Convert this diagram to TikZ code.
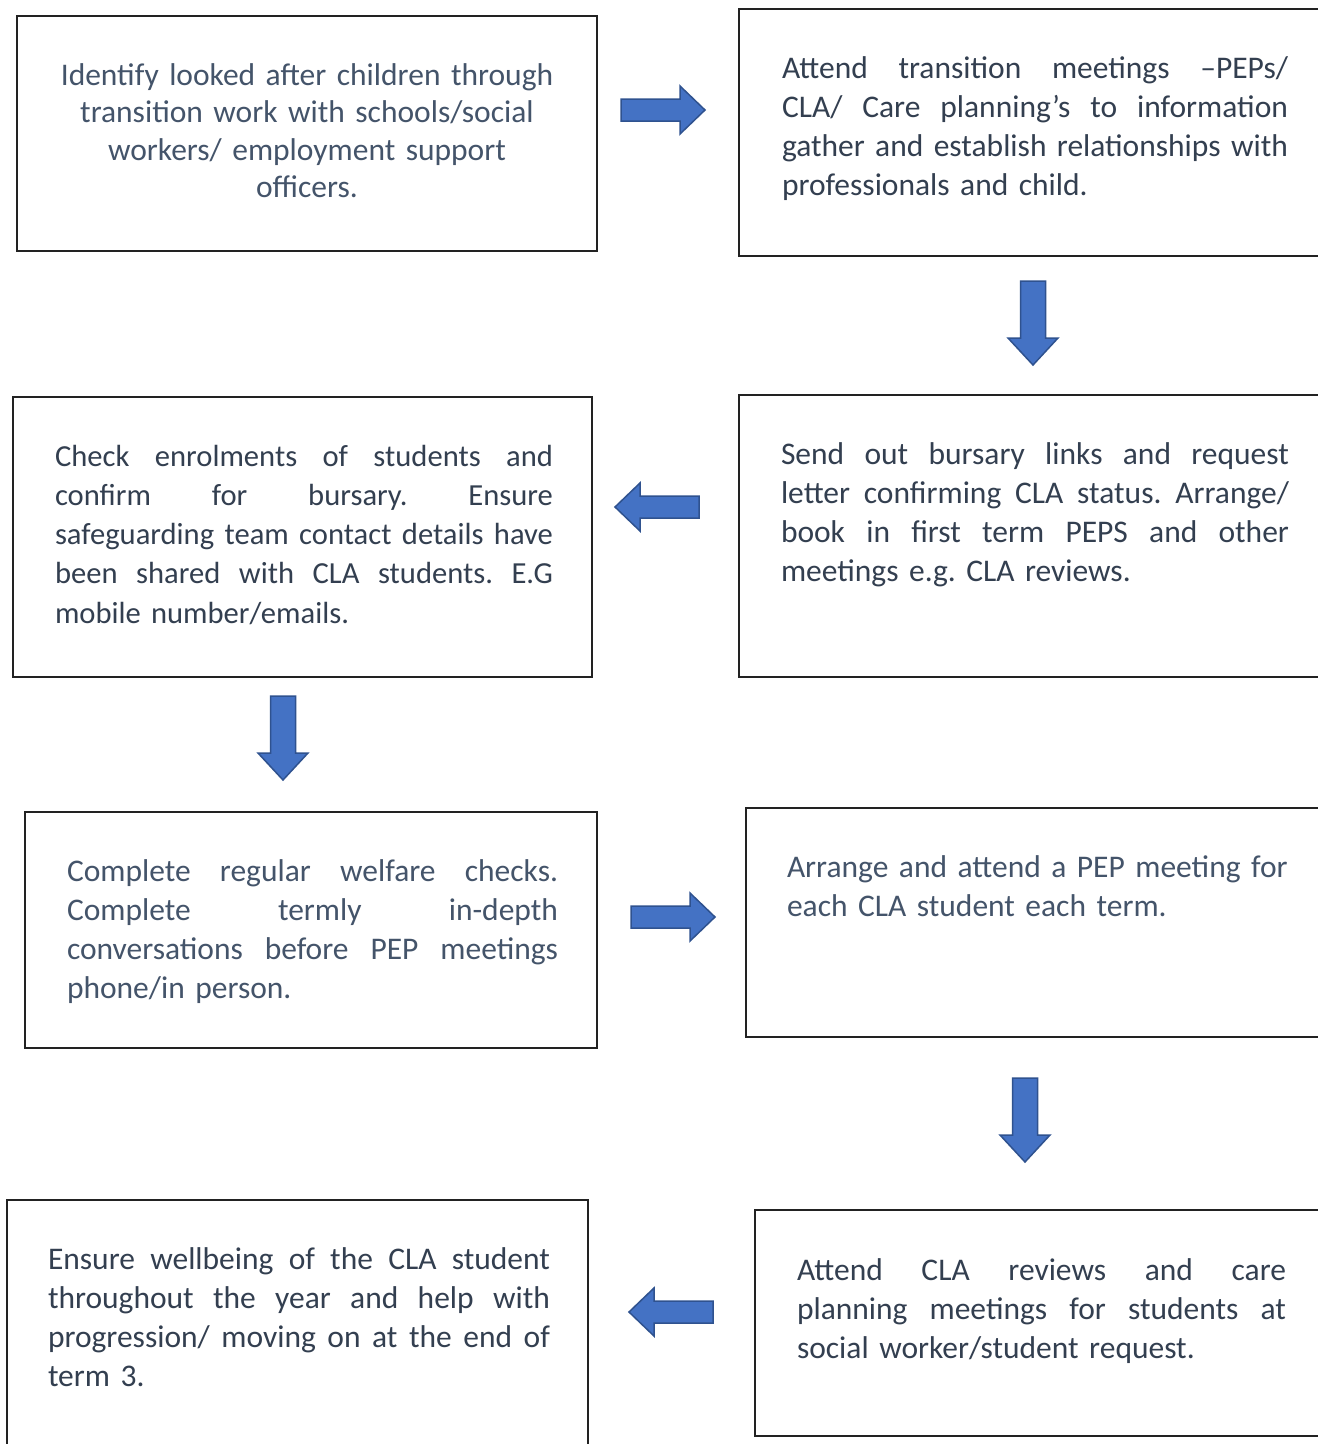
\documentclass[tikz,border=0pt]{standalone}
\usepackage{fontspec}
\setmainfont{Carlito}
\definecolor{txtlight}{HTML}{44546A}
\definecolor{txtdark}{HTML}{333F50}
\definecolor{arrfill}{HTML}{4472C4}
\definecolor{arrdraw}{HTML}{2F528F}
\definecolor{boxc}{HTML}{222222}
\newcommand{\jl}[2]{\leavevmode\hbox to #1{\spaceskip=0pt\xspaceskip=0pt\frenchspacing #2}}
\begin{document}
\begin{tikzpicture}[x=1pt,y=-1pt,
  box/.style={draw=boxc, line width=1.3pt, inner sep=0pt, outer sep=0pt, anchor=north west},
  txt/.style={inner sep=0pt, outer sep=0pt, anchor=base west, align=left,
              font=\fontsize{31.5}{39.3}\selectfont\frenchspacing},
  blockarrow/.style={fill=arrfill, draw=arrdraw, line width=1.5pt, line join=miter},
  rarrow/.pic={\path[blockarrow] (0,-11) -- (59,-11) -- (59,-24) -- (84,0) -- (59,24) -- (59,11) -- (0,11) -- cycle;},
  larrow/.pic={\path[blockarrow] (0,-11) -- (-59,-11) -- (-59,-24) -- (-84,0) -- (-59,24) -- (-59,11) -- (0,11) -- cycle;},
  darrow/.pic={\path[blockarrow] (-12.5,0) -- (12.5,0) -- (12.5,57) -- (25,57) -- (0,84) -- (-25,57) -- (-12.5,57) -- (-12.5,0) -- cycle;}
]
\useasboundingbox (0,0) rectangle (1318,1444);
\fill[white] (0,0) rectangle (1318,1444);
\clip (0,0) rectangle (1318,1444);

% boxes
\node[box, minimum width=580pt, minimum height=235pt] (b1) at (17,16) {};
\node[box, minimum width=600pt, minimum height=247pt] (b2) at (739,9) {};
\node[box, minimum width=600pt, minimum height=282pt] (b3) at (739,395) {};
\node[box, minimum width=579pt, minimum height=280pt] (b4) at (13,397) {};
\node[box, minimum width=572pt, minimum height=236pt] (b5) at (25,812) {};
\node[box, minimum width=600pt, minimum height=229pt] (b6) at (746,808) {};
\node[box, minimum width=600pt, minimum height=226pt] (b7) at (755,1210) {};
\node[box, minimum width=581pt, minimum height=270pt] (b8) at (7,1200) {};

% texts
\node[txt, anchor=base, align=center, text width=560pt, text=txtlight, font=\fontsize{31.5}{37.5}\selectfont] (t1) at (307,85)
  {Identify looked after children through\\ transition work with schools/social\\ workers/ employment support\\ officers.};

\node[txt, text=txtdark, text width=506pt] (t2) at (782,78)
  {\jl{506pt}{Attend transition meetings –PEPs/}\\ \jl{506pt}{CLA/ Care planning’s to information}\\ \jl{506pt}{gather and establish relationships with}\\ professionals and child.};

\node[txt, text=txtdark, text width=508pt] (t3) at (781,464)
  {\jl{508pt}{Send out bursary links and request}\\ \jl{508pt}{letter confirming CLA status. Arrange/}\\ \jl{508pt}{book in first term PEPS and other}\\ meetings e.g. CLA reviews.};

\node[txt, text=txtdark, text width=498pt, font=\fontsize{30.6}{39.3}\selectfont\frenchspacing] (t4) at (55,466)
  {\jl{498pt}{Check enrolments of students and}\\ \jl{498pt}{confirm for bursary. Ensure}\\ \jl{498pt}{safeguarding team contact details have}\\ \jl{498pt}{been shared with CLA students. E.G}\\ mobile number/emails.};

\node[txt, text=txtlight, text width=491pt] (t5) at (67,881)
  {\jl{491pt}{Complete regular welfare checks.}\\ \jl{491pt}{Complete termly in-depth}\\ \jl{491pt}{conversations before PEP meetings}\\ phone/in person.};

\node[txt, text=txtlight, text width=540pt] (t6) at (787,877)
  {Arrange and attend a PEP meeting for\\ each CLA student each term.};

\node[txt, text=txtdark, text width=489pt] (t7) at (797,1280)
  {\jl{489pt}{Attend CLA reviews and care}\\ \jl{489pt}{planning meetings for students at}\\ social worker/student request.};

\node[txt, text=txtdark, text width=502pt] (t8) at (48,1269)
  {\jl{502pt}{Ensure wellbeing of the CLA student}\\ \jl{502pt}{throughout the year and help with}\\ \jl{502pt}{progression/ moving on at the end of}\\ term 3.};

% block arrows
\pic (a1) at (621,110) {rarrow};
\pic (a2) at (1033,281) {darrow};
\pic (a3) at (699,507) {larrow};
\pic (a4) at (283,696) {darrow};
\pic (a5) at (631,917) {rarrow};
\pic (a6) at (1025,1078) {darrow};
\pic (a7) at (713,1312) {larrow};
\end{tikzpicture}
\end{document}
